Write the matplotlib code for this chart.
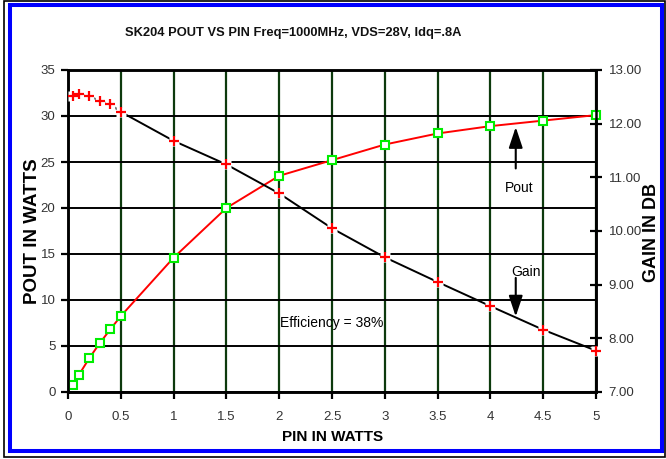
# sk204 pout / gain vs pin chart
# two y axes: pout in watts (left) and gain in db (right)

import matplotlib
matplotlib.use("Agg")
import matplotlib.pyplot as plt
from matplotlib.patches import Rectangle

plt.rcParams["font.family"] = ["Liberation Sans", "DejaVu Sans"]

W, H = 666, 459  # output size in pixels

# data
pin = [0.05, 0.1, 0.2, 0.3, 0.4, 0.5, 1.0, 1.5, 2.0, 2.5, 3.0, 3.5, 4.0, 4.5, 5.0]
pout = [0.8, 1.8, 3.65, 5.3, 6.8, 8.25, 14.6, 20.0, 23.5, 25.2, 26.9, 28.1, 28.9, 29.5, 30.1]
gain = [12.51, 12.55, 12.51, 12.43, 12.36, 12.22, 11.68, 11.24, 10.70, 10.05, 9.51, 9.05, 8.60, 8.16, 7.77]

x_ticks = [0, 0.5, 1, 1.5, 2, 2.5, 3, 3.5, 4, 4.5, 5]
x_labels = ["0", "0.5", "1", "1.5", "2", "2.5", "3", "3.5", "4", "4.5", "5"]
pout_ticks = [0, 5, 10, 15, 20, 25, 30, 35]
gain_ticks = [7, 8, 9, 10, 11, 12, 13]


def fx(px):
    return px / W


def fy(py):
    return 1 - py / H


fig = plt.figure(figsize=(W / 100, H / 100), dpi=100)

# chart area borders
fig.patches.append(Rectangle((fx(3.5), fy(457)), fx(665) - fx(3.5), fy(1) - fy(457),
                             transform=fig.transFigure, fill=False, ec="black", lw=1.2))
fig.patches.append(Rectangle((fx(10), fy(451)), fx(662) - fx(10), fy(5) - fy(451),
                             transform=fig.transFigure, fill=False, ec="#0000ff", lw=2.9))

ax = fig.add_axes([fx(68), fy(392), fx(596) - fx(68), fy(70) - fy(392)])
ax2 = ax.twinx()

# grid: green verticals, black horizontals
ax.set_axisbelow(True)
ax.grid(axis="x", color="#0d3a0d", lw=1.6)
ax.grid(axis="y", color="black", lw=1.4)

for s in ax.spines.values():
    s.set_linewidth(1.8)
for s in ax2.spines.values():
    s.set_linewidth(1.8)

# pout series
ax.plot(pin, pout, color="red", lw=1.4, marker="s", ms=5.5, mfc="white",
        mec="#00ee00", mew=1.5, zorder=3, clip_on=False)

# gain series, markers sit on white boxes so the line breaks around them
ax2.plot(pin, gain, color="black", lw=1.4, zorder=2)
ax2.plot(pin, gain, ls="none", marker="s", ms=7, mfc="white", mec="none", zorder=3, clip_on=False)
ax2.plot(pin, gain, ls="none", marker="+", ms=6.5, mew=1.6, color="red", zorder=4, clip_on=False)

ax.set_xlim(0, 5)
ax.set_ylim(0, 35)
ax2.set_ylim(7, 13)

ax.set_xticks(x_ticks)
ax.set_xticklabels(x_labels)
ax.set_yticks(pout_ticks)
ax2.set_yticks(gain_ticks)
ax2.set_yticklabels(["%.2f" % g for g in gain_ticks])

tick_col = "#333333"
ax.tick_params(axis="x", direction="out", length=5, width=1.6, pad=9, labelsize=9.5, labelcolor=tick_col)
ax.tick_params(axis="y", direction="out", length=5, width=1.6, pad=4, labelsize=9.5, labelcolor=tick_col)
ax2.tick_params(axis="y", direction="inout", length=8, width=1.6, pad=5, labelsize=9.5, labelcolor=tick_col)

# axis titles and chart title
fig.text(fx(33), fy(231), "POUT IN WATTS", rotation=90, ha="center", va="center",
         fontsize=13.5, fontweight="bold")
fig.text(fx(651), fy(232), "GAIN IN DB", rotation=90, ha="center", va="center",
         fontsize=13, fontweight="bold")
fig.text(fx(333), fy(437), "PIN IN WATTS", ha="center", va="center",
         fontsize=11, fontweight="bold")
fig.text(fx(293), fy(33), "SK204 POUT VS PIN Freq=1000MHz, VDS=28V, Idq=.8A",
         ha="center", va="center", fontsize=9.3, fontweight="bold", color="#111111")

# callouts
arrow = dict(arrowstyle="-|>,head_length=0.9,head_width=0.3", color="black", lw=1.5,
             shrinkA=0, shrinkB=0, mutation_scale=14)
ax.annotate("", xy=(4.24, 28.8), xytext=(4.24, 24.3), arrowprops=arrow)
ax.text(4.27, 22.2, "Pout", ha="center", va="center", fontsize=10)
ax.annotate("", xy=(4.24, 8.2), xytext=(4.24, 12.4), arrowprops=arrow)
ax.text(4.34, 13.0, "Gain", ha="center", va="center", fontsize=10)
ax.text(2.01, 7.5, "Efficiency = 38%", ha="left", va="center", fontsize=10)

fig.savefig("out.png", dpi=100)
